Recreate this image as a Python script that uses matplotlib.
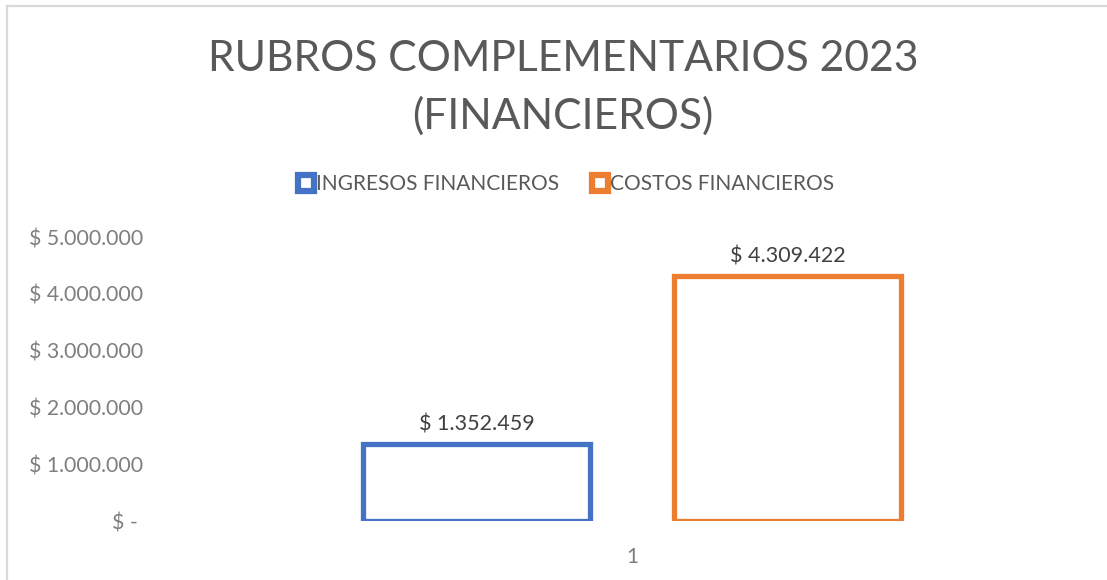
import matplotlib.pyplot as plt
from matplotlib.lines import Line2D
import numpy as np

# datos
series = ["INGRESOS FINANCIEROS", "COSTOS FINANCIEROS"]
valores = [1352459, 4309422]
colores = ["#4472C4", "#ED7D31"]
categorias = ["1"]
yticks = [0, 1000000, 2000000, 3000000, 4000000, 5000000]
ytick_labels = ["$ - ", "$ 1.000.000", "$ 2.000.000", "$ 3.000.000", "$ 4.000.000", "$ 5.000.000"]
etiquetas = ["$ 1.352.459", "$ 4.309.422"]

plt.rcParams['font.family'] = ['Lato', 'DejaVu Sans']
W, H = 1107, 580
fig = plt.figure(figsize=(W / 100, H / 100), dpi=100)
ax = fig.add_axes([160 / W, (H - 521) / H, 944 / W, (521 - 237) / H])

ancho = 0.241
desp = 0.1647
x = np.arange(len(categorias))
for i, (v, c) in enumerate(zip(valores, colores)):
    xs = x + (i - 0.5) * 2 * desp
    ax.bar(xs, [v], width=ancho, facecolor="white", edgecolor=c, linewidth=3.8, zorder=3)
    ax.text(xs[0], v + 170000, etiquetas[i], ha="center", va="bottom",
            fontsize=15.5, color="#404040")

ax.set_xlim(-0.5, 0.5)
ax.set_ylim(0, 5000000)
ax.set_yticks(yticks)
ax.set_yticklabels(ytick_labels, fontsize=15.3, color="#7f7f7f")
ax.set_xticks(x)
ax.set_xticklabels(categorias, fontsize=15, color="#7f7f7f")
ax.tick_params(length=0)
ax.tick_params(axis="y", pad=12)
ax.tick_params(axis="x", pad=19)
for s in ax.spines.values():
    s.set_visible(False)

fig.text(563 / W, (H - 59) / H, "RUBROS COMPLEMENTARIOS 2023", ha="center", va="center",
         fontsize=30.7, color="#595959")
fig.text(563 / W, (H - 116) / H, "(FINANCIEROS)", ha="center", va="center",
         fontsize=30.7, color="#595959")

handles = [Line2D([], [], linestyle="none", marker="s", markersize=12,
                  markerfacecolor="white", markeredgecolor=c, markeredgewidth=4.5)
           for c in colores]
leg = fig.legend(handles, series, loc="center", bbox_to_anchor=(566 / W, (H - 184) / H),
                 ncol=2, frameon=False, fontsize=15, handlelength=0.75,
                 handletextpad=0.1, columnspacing=1.6)
for t in leg.get_texts():
    t.set_color("#595959")

# borde del gráfico
fig.add_artist(Line2D([6.5 / W, 6.5 / W], [0, (H - 5.5) / H], color="#d9d9d9", lw=1.6))
fig.add_artist(Line2D([6.5 / W, 1], [(H - 5.5) / H, (H - 5.5) / H], color="#d9d9d9", lw=1.6))

fig.savefig("out.png", dpi=100)
